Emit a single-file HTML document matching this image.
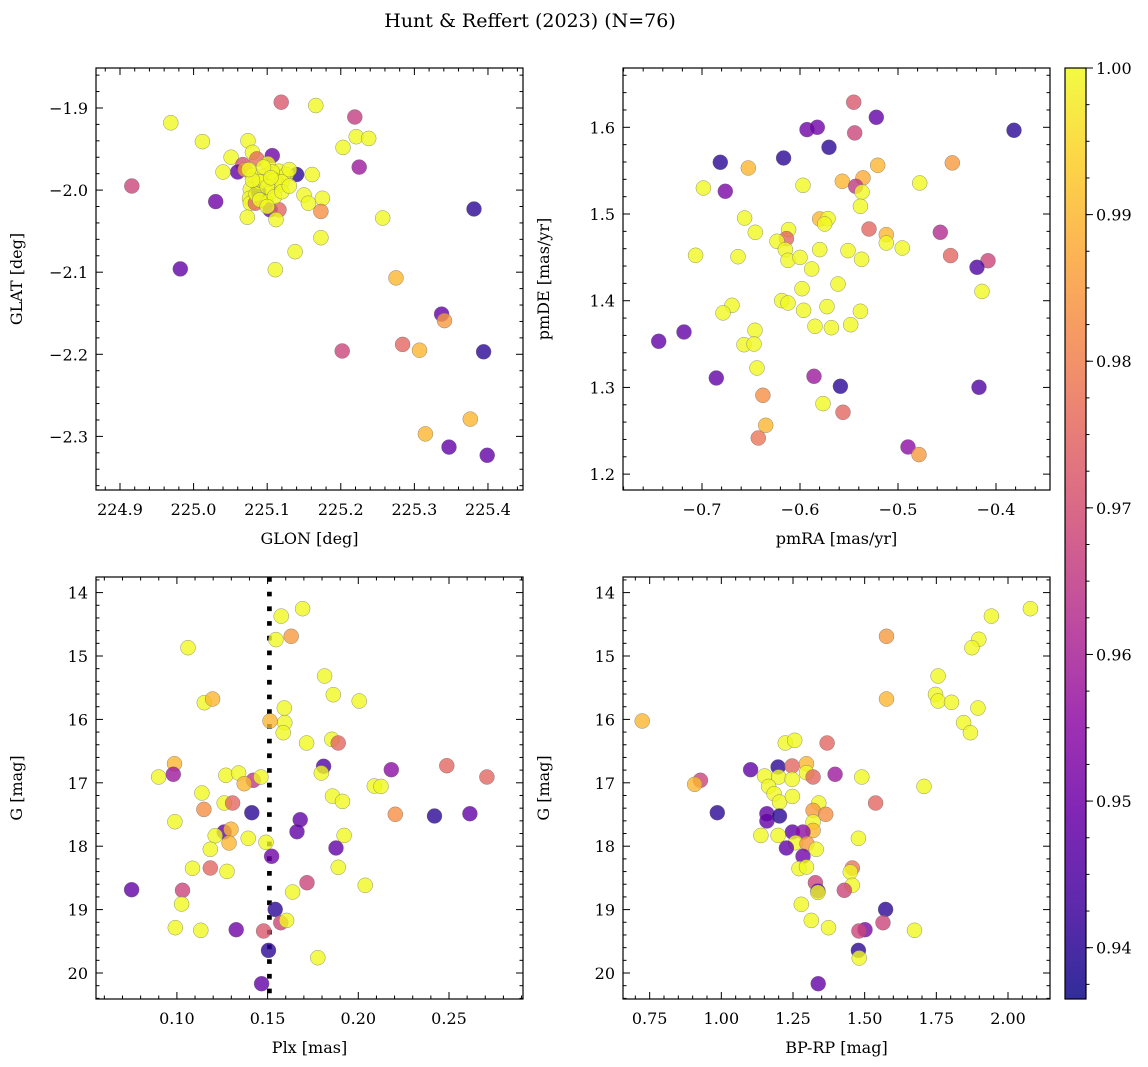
<!DOCTYPE html>
<html><head><meta charset="utf-8"><style>
html,body{margin:0;padding:0;background:#fff;}
svg{display:block;font-family:"DejaVu Serif","Liberation Serif",serif;}
</style></head><body>
<svg id="fig" width="1148" height="1067" viewBox="0 0 1148 1067" xmlns="http://www.w3.org/2000/svg">
<text x="530" y="27" text-anchor="middle" font-size="19">Hunt &amp; Reffert (2023) (N=76)</text>
</svg>
<script>
// ---- Panel 1: GLON vs GLAT ----
const p1Lon=[225.119,225.166,225.219,224.969,225.012,225.074,225.221,225.238,225.203,225.080,225.107,225.051,225.086,225.225,225.067,225.060,225.040,225.070,225.140,225.161,225.101,225.116,225.126,225.081,225.096,225.107,225.116,225.077,225.102,225.076,225.098,225.077,225.088,225.084,225.104,225.116,225.150,225.156,225.175,225.173,225.073,225.112,225.257,224.916,225.030,225.381,225.173,225.138,224.982,225.111,225.275,225.337,225.341,225.202,225.284,225.307,225.394,225.376,225.315,225.347,225.399,225.09,225.11,225.12,225.085,225.10,225.13,225.095,225.11,225.09,225.12,225.105,225.08,225.10,225.13,225.075];
const p1Lat=[-1.893,-1.897,-1.911,-1.918,-1.941,-1.940,-1.935,-1.937,-1.948,-1.954,-1.958,-1.960,-1.962,-1.972,-1.969,-1.978,-1.978,-1.975,-1.981,-1.981,-1.968,-1.977,-1.981,-1.982,-1.983,-1.978,-1.994,-1.999,-2.004,-2.010,-2.014,-2.016,-2.002,-2.016,-2.024,-2.024,-2.006,-2.016,-2.010,-2.026,-2.033,-2.036,-2.034,-1.995,-2.014,-2.023,-2.058,-2.075,-2.096,-2.097,-2.107,-2.151,-2.159,-2.196,-2.188,-2.195,-2.197,-2.279,-2.297,-2.313,-2.323,-1.990,-1.988,-1.990,-2.005,-1.996,-1.975,-1.972,-2.008,-2.012,-2.002,-1.985,-1.988,-2.020,-1.995,-1.975];
const p1Prob=[0.972,1,0.966,1,1,1,1,1,1,1,0.95,1,0.976,0.958,0.97,0.948,1,0.985,0.94,1,1,1,1,1,1,1,1,1,1,1,1,1,0.94,0.975,0.95,0.975,1,1,1,0.983,1,1,1,0.968,0.95,0.94,1,1,0.948,1,0.99,0.948,0.985,0.968,0.975,0.99,0.94,0.99,0.99,0.948,0.948,1,1,1,1,1,1,1,1,1,1,1,1,1,1,1];
// ---- Panel 2: pmRA vs pmDE ----
const p2Pmra=[-0.5452,-0.5221,-0.5929,-0.5823,-0.3816,-0.5442,-0.5704,-0.6813,-0.6167,-0.6527,-0.4446,-0.5207,-0.6986,-0.6762,-0.5969,-0.5568,-0.5357,-0.5432,-0.5367,-0.4779,-0.5384,-0.6565,-0.6456,-0.5799,-0.5714,-0.5748,-0.6116,-0.6139,-0.6235,-0.6150,-0.6122,-0.5296,-0.5119,-0.5119,-0.4568,-0.4956,-0.4463,-0.4082,-0.4194,-0.4143,-0.7065,-0.6633,-0.5799,-0.5510,-0.5371,-0.5881,-0.5980,-0.5612,-0.6187,-0.6122,-0.5963,-0.5724,-0.5384,-0.6694,-0.6786,-0.5847,-0.5680,-0.5483,-0.6459,-0.6571,-0.6469,-0.6439,-0.7442,-0.7184,-0.6854,-0.5857,-0.5588,-0.4173,-0.5765,-0.6378,-0.5561,-0.6350,-0.6425,-0.4898,-0.4786,-0.6000];
const p2Pmde=[1.6289,1.6115,1.5973,1.6000,1.5965,1.5935,1.5769,1.5596,1.5646,1.5531,1.5589,1.5562,1.5300,1.5262,1.5331,1.5377,1.5416,1.5320,1.5254,1.5358,1.5089,1.4954,1.4789,1.4943,1.4947,1.4885,1.4820,1.4716,1.4685,1.4589,1.4466,1.4827,1.4762,1.4666,1.4789,1.4608,1.4520,1.4462,1.4385,1.4108,1.4524,1.4508,1.4589,1.4578,1.4478,1.4366,1.4139,1.4193,1.4001,1.3974,1.3889,1.3932,1.3878,1.3947,1.3859,1.3705,1.3689,1.3724,1.3659,1.3493,1.3501,1.3224,1.3532,1.3639,1.3109,1.3128,1.3013,1.3001,1.2813,1.2909,1.2713,1.2563,1.2417,1.2313,1.2225,1.4500];
const p2Prob=[0.972,0.948,0.95,0.95,0.94,0.968,0.94,0.94,0.94,0.99,0.985,0.99,1,0.952,1,0.99,0.988,0.965,1,1,1,1,1,0.99,1,1,1,0.975,1,1,1,0.975,0.99,1,0.962,1,0.975,0.968,0.945,1,1,1,1,1,1,1,1,1,1,1,1,1,1,1,1,1,1,1,1,1,1,1,0.948,0.948,0.948,0.958,0.94,0.945,1,0.983,0.975,0.99,0.978,0.955,0.985,1];
// ---- Panel 3: Plx vs G ----
const p3Plx=[0.1693,0.1575,0.1546,0.1630,0.1061,0.1814,0.1862,0.2005,0.1151,0.1197,0.1592,0.1513,0.1595,0.1586,0.1715,0.1854,0.1889,0.0987,0.0980,0.0899,0.1270,0.1340,0.1421,0.1371,0.1463,0.1809,0.1796,0.2182,0.2488,0.2709,0.2088,0.2125,0.1138,0.1261,0.1307,0.1149,0.1413,0.1858,0.1913,0.2204,0.2420,0.2615,0.0989,0.1680,0.1662,0.1261,0.1298,0.1211,0.1393,0.1288,0.1491,0.1922,0.1522,0.1877,0.1184,0.1086,0.1184,0.1276,0.1889,0.0750,0.1031,0.1026,0.1717,0.1638,0.2038,0.1542,0.1573,0.1605,0.0991,0.1132,0.1327,0.1478,0.1505,0.1777,0.1467];
const p3G=[14.254,14.370,14.742,14.690,14.869,15.315,15.610,15.710,15.736,15.678,15.820,16.025,16.051,16.209,16.372,16.314,16.372,16.698,16.866,16.908,16.882,16.845,16.961,17.014,16.908,16.740,16.845,16.793,16.730,16.908,17.051,17.056,17.161,17.319,17.319,17.419,17.472,17.209,17.293,17.497,17.523,17.487,17.613,17.582,17.771,17.776,17.734,17.834,17.876,17.950,17.939,17.829,18.160,18.028,18.049,18.349,18.344,18.397,18.333,18.686,18.696,18.912,18.575,18.723,18.617,18.996,19.206,19.170,19.285,19.327,19.317,19.338,19.643,19.759,20.168];
const p3Prob=[1,1,1,0.985,1,1,1,1,1,0.99,1,0.99,1,1,1,1,0.975,0.99,0.958,1,1,1,0.965,0.99,1,0.945,1,0.955,0.975,0.975,1,1,1,1,0.975,0.983,0.94,1,1,0.983,0.94,0.948,1,0.948,0.948,0.948,0.99,1,1,0.99,1,1,0.95,0.948,1,1,0.975,1,1,0.948,0.968,1,0.968,1,1,0.94,0.968,1,1,1,0.95,0.972,0.94,1,0.948];
const p3Cut=0.151;
// ---- Panel 4: BP-RP vs G ----
const p4Bprp=[2.078,1.942,1.898,1.874,1.576,1.756,1.747,1.756,1.803,1.895,1.576,1.845,1.869,0.724,1.223,1.256,1.369,1.102,1.198,1.247,1.297,1.297,1.320,1.397,1.490,1.151,1.200,1.247,0.927,0.907,1.707,1.165,1.184,1.203,1.248,1.340,1.320,1.364,1.538,0.986,1.159,1.159,1.203,1.320,1.320,1.248,1.285,1.138,1.198,1.478,1.259,1.299,1.227,1.331,1.285,1.271,1.297,1.457,1.450,1.457,1.328,1.337,1.337,1.429,1.279,1.573,1.564,1.314,1.374,1.501,1.480,1.674,1.478,1.481,1.338];
const p4G=[14.254,14.370,14.737,14.869,14.690,15.315,15.605,15.710,15.731,15.820,15.678,16.051,16.209,16.025,16.372,16.330,16.372,16.793,16.751,16.735,16.698,16.840,16.908,16.866,16.908,16.893,16.908,16.945,16.961,17.024,17.056,17.056,17.172,17.303,17.214,17.319,17.435,17.497,17.319,17.472,17.487,17.603,17.523,17.618,17.750,17.776,17.776,17.829,17.829,17.876,17.944,17.960,18.028,18.049,18.160,18.354,18.328,18.344,18.407,18.617,18.575,18.707,18.728,18.696,18.917,18.996,19.206,19.170,19.285,19.317,19.338,19.327,19.643,19.764,20.168];
const p4Prob=[1,1,1,1,0.985,1,1,1,1,1,0.99,1,1,0.99,1,1,0.975,0.948,0.94,0.975,0.99,1,0.975,0.958,1,1,1,1,0.968,0.99,1,1,1,1,1,1,0.985,0.983,0.975,0.94,0.948,0.948,0.94,1,0.99,0.948,0.955,1,1,1,1,0.985,0.948,1,0.95,1,1,0.978,1,1,0.968,0.945,1,0.968,1,0.94,0.968,1,1,0.952,0.968,1,0.94,1,0.948];
// ---- Colorbar ----
const cbTicks=[0.94,0.95,0.96,0.97,0.98,0.99,1.00];
const cbTickLabels=["0.94","0.95","0.96","0.97","0.98","0.99","1.00"];
const vmin=0.9365, vmax=1.0;

const NS="http://www.w3.org/2000/svg";
const svg=document.getElementById('fig');
function mk(tag,attrs,parent){const e=document.createElementNS(NS,tag);for(const k in attrs)e.setAttribute(k,attrs[k]);(parent||svg).appendChild(e);return e;}
const stops=["#0d0887","#41049d","#6a00a8","#8f0da4","#b12a90","#cc4778","#e16462","#f2844b","#fca636","#fcce25","#f0f921"];
function hex(h){return [parseInt(h.slice(1,3),16),parseInt(h.slice(3,5),16),parseInt(h.slice(5,7),16)];}
function plasma(t){t=Math.max(0,Math.min(1,t));const f=t*10;const i=Math.min(9,Math.floor(f));const u=f-i;const a=hex(stops[i]),b=hex(stops[i+1]);return `rgb(${a.map((v,k)=>Math.round(v+(b[k]-v)*u)).join(',')})`;}
function fmt(v,d){const s=Math.abs(v).toFixed(d);return (v<-1e-9?'\u2212':'')+s;}

function panel(o){
  const g=mk('g',{});
  
  
  const sx=v=>o.x0+(v-o.xmin)/(o.xmax-o.xmin)*(o.x1-o.x0);
  const sy=v=>o.yinv? o.y0+(v-o.ymin)/(o.ymax-o.ymin)*(o.y1-o.y0) : o.y1-(v-o.ymin)/(o.ymax-o.ymin)*(o.y1-o.y0);
  if(o.vline!==undefined){
    const l=mk('line',{x1:sx(o.vline),x2:sx(o.vline),y1:o.y0,y2:o.y1,stroke:'#000','stroke-width':4.7,'stroke-dasharray':'4.7 10'},g);
    
    
  }
  for(let i=0;i<o.xs.length;i++){
    const c=mk('circle',{cx:sx(o.xs[i]).toFixed(1),cy:sy(o.ys[i]).toFixed(1),r:7.5,fill:plasma((o.ps[i]-vmin)/(vmax-vmin)),'fill-opacity':0.8,stroke:'#666','stroke-width':0.5,'stroke-opacity':0.7},g);
    
    
  }
  const fr=mk('rect',{x:o.x0,y:o.y0,width:o.x1-o.x0,height:o.y1-o.y0,fill:'none',stroke:'#000','stroke-width':1.2},g);
  
  
  const eps=1e-9;
  for(let v=Math.ceil(o.xmin/o.xmn-eps)*o.xmn; v<=o.xmax+eps; v+=o.xmn){
    const X=sx(v); const major=Math.abs(v/o.xmj-Math.round(v/o.xmj))<1e-4; const L=major?7:3.5;
    mk('line',{x1:X,x2:X,y1:o.y1,y2:o.y1-L,stroke:'#000','stroke-width':1},g);
    mk('line',{x1:X,x2:X,y1:o.y0,y2:o.y0+L,stroke:'#000','stroke-width':1},g);
    if(major){const t=mk('text',{x:X,y:o.y1+25,'text-anchor':'middle','font-size':16},g);t.textContent=fmt(v,o.xd);
      }
  }
  for(let v=Math.ceil(o.ymin/o.ymn-eps)*o.ymn; v<=o.ymax+eps; v+=o.ymn){
    const Y=sy(v); const major=Math.abs(v/o.ymj-Math.round(v/o.ymj))<1e-4; const L=major?7:3.5;
    mk('line',{x1:o.x0,x2:o.x0+L,y1:Y,y2:Y,stroke:'#000','stroke-width':1},g);
    mk('line',{x1:o.x1,x2:o.x1-L,y1:Y,y2:Y,stroke:'#000','stroke-width':1},g);
    if(major){const t=mk('text',{x:o.x0-8,y:Y+6,'text-anchor':'end','font-size':16},g);t.textContent=fmt(v,o.yd);
      }
  }
  const xl=mk('text',{x:(o.x0+o.x1)/2,y:o.y1+54,'text-anchor':'middle','font-size':16},g);xl.textContent=o.xlabel;
  
  const yx=o.x0-74, yc=(o.y0+o.y1)/2;
  const yl=mk('text',{x:yx,y:yc,'text-anchor':'middle','font-size':16,transform:`rotate(-90 ${yx} ${yc})`},g);yl.textContent=o.ylabel;
  
}
panel({name:'glon-glat-panel',x0:96,x1:523,y0:68,y1:490,xmin:224.8674,xmax:225.4476,ymin:-2.3653,ymax:-1.8513,xmj:0.1,xmn:0.02,ymj:0.1,ymn:0.02,xd:1,yd:1,xs:p1Lon,ys:p1Lat,ps:p1Prob,xlabel:'GLON [deg]',ylabel:'GLAT [deg]'});
panel({name:'proper-motion-panel',x0:623,x1:1050,y0:68,y1:490,xmin:-0.7806,xmax:-0.3449,ymin:1.1817,ymax:1.6684,xmj:0.1,xmn:0.02,ymj:0.1,ymn:0.02,xd:1,yd:1,xs:p2Pmra,ys:p2Pmde,ps:p2Prob,xlabel:'pmRA [mas/yr]',ylabel:'pmDE [mas/yr]'});
panel({name:'parallax-mag-panel',x0:96,x1:523,y0:577,y1:999,xmin:0.0554,xmax:0.2908,ymin:13.754,ymax:20.41,yinv:true,xmj:0.05,xmn:0.01,ymj:1,ymn:0.2,xd:2,yd:0,xs:p3Plx,ys:p3G,ps:p3Prob,vline:p3Cut,xlabel:'Plx [mas]',ylabel:'G [mag]'});
panel({name:'cmd-panel',x0:623,x1:1050,y0:577,y1:999,xmin:0.657,xmax:2.1465,ymin:13.754,ymax:20.41,yinv:true,xmj:0.25,xmn:0.05,ymj:1,ymn:0.2,xd:2,yd:0,xs:p4Bprp,ys:p4G,ps:p4Prob,xlabel:'BP-RP [mag]',ylabel:'G [mag]'});

const cb=mk('g',{});


const defs=mk('defs',{},cb);
const lg=mk('linearGradient',{id:'cbg',x1:0,y1:1,x2:0,y2:0},defs);
for(let i=0;i<=20;i++){mk('stop',{offset:i/20,'stop-color':plasma(i/20),'stop-opacity':0.85},lg);}
const cbX0=1065,cbX1=1086,cbY0=68,cbY1=999;
const cbr=mk('rect',{x:cbX0,y:cbY0,width:cbX1-cbX0,height:cbY1-cbY0,fill:'url(#cbg)',stroke:'#000','stroke-width':1.2},cb);


const cy=v=>cbY1-(v-vmin)/(vmax-vmin)*(cbY1-cbY0);
for(let v=0.9375; v<=vmax+1e-9; v+=0.0025){const Y=cy(v);mk('line',{x1:cbX1,x2:cbX1+3.5,y1:Y,y2:Y,stroke:'#000','stroke-width':1},cb);}
cbTicks.forEach((v,i)=>{const Y=cy(v);mk('line',{x1:cbX1,x2:cbX1+7,y1:Y,y2:Y,stroke:'#000','stroke-width':1},cb);
  const t=mk('text',{x:cbX1+10,y:Y+6,'font-size':16},cb);t.textContent=cbTickLabels[i];
  
  });
</script>
</body></html>
